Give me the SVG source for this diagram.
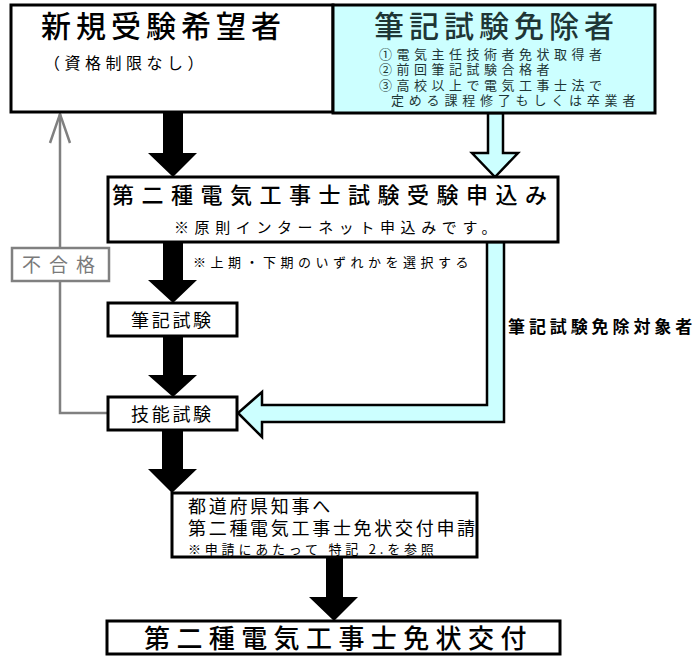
<svg xmlns="http://www.w3.org/2000/svg" width="700" height="660" viewBox="0 0 700 660">
<style>
text{font-family:"Noto Sans CJK JP","Noto Sans CJK SC",sans-serif;fill:#000}
.box{fill:#fff;stroke:#000;stroke-width:3}
.cy{fill:#ccffff;stroke:#000;stroke-width:3}
.blk{fill:#000}
.cya{fill:#ccffff;stroke:#000;stroke-width:2.5;stroke-linejoin:miter}
.gray{fill:none;stroke:#808080;stroke-width:2.5}
.teal{fill:#1e3636}
.tt{font-weight:500}
</style>
<rect width="700" height="660" fill="#fff"/>
<g id="connectors">
<polygon class="blk" points="163,112 183,112 183,153 197,153 173,177 148,153 163,153"/>
<polygon class="cya" points="488,113 503,113 503,153 518,153 495,177 472,153 488,153"/>
<polygon class="blk" points="163,242 183,242 183,280 197,280 173,303 148,280 163,280"/>
<polygon class="blk" points="163,336 183,336 183,375 197,375 173,397 148,375 163,375"/>
<polygon class="blk" points="162,430 183,430 183,469 197,469 172,493 148,469 162,469"/>
<polygon class="blk" points="326,557 343,557 343,597 358,597 334,621 309,597 326,597"/>
<polygon class="cya" points="487,242 487,405 262,405 262,392 238,413 262,437 262,422 504,422 504,242"/>
<polyline class="gray" points="60,248 60,114"/>
<polyline class="gray" points="50,143 60,114 70,143"/>
<polyline class="gray" points="60,281 60,413 108,413"/>
<text x="508" y="333" font-size="17" font-weight="bold" letter-spacing="3.9">筆記試験免除対象者</text>
<text x="193" y="267" font-size="13" letter-spacing="4.5">※上期・下期のいずれかを選択する</text>
</g>
<g id="n-shinki">
<rect class="box" x="11" y="5" width="322" height="107"/>
<text class="tt" x="41" y="37" font-size="30" letter-spacing="5">新規受験希望者</text>
<text x="44" y="69" font-size="16" letter-spacing="4.5">（資格制限なし）</text>
</g>
<g id="n-menjo">
<rect class="cy" x="333" y="5" width="322" height="108"/>
<text class="teal tt" x="374" y="37" font-size="30" letter-spacing="5">筆記試験免除者</text>
<text class="teal" x="379" y="59" font-size="13" letter-spacing="4.5">①電気主任技術者免状取得者</text>
<text class="teal" x="379" y="74" font-size="13" letter-spacing="4.5">②前回筆記試験合格者</text>
<text class="teal" x="379" y="90" font-size="13" letter-spacing="4.5">③高校以上で電気工事士法で</text>
<text class="teal" x="391" y="105" font-size="13" letter-spacing="4.8">定める課程修了もしくは卒業者</text>
</g>
<g id="n-moushikomi">
<rect class="box" x="108" y="177" width="450" height="65"/>
<text class="tt" x="112" y="203" font-size="22" letter-spacing="7.5">第二種電気工事士試験受験申込み</text>
<text x="174" y="233" font-size="15" letter-spacing="5.6">※原則インターネット申込みです。</text>
</g>
<g id="n-fugoukaku">
<rect x="12" y="248" width="97" height="33" fill="#fff" stroke="#808080" stroke-width="2.5"/>
<text x="22" y="272" font-size="19" letter-spacing="8" style="fill:#7a7a7a">不合格</text>
</g>
<g id="n-hikki">
<rect class="box" x="108" y="303" width="129" height="33"/>
<text x="131" y="327" font-size="18" letter-spacing="2.7">筆記試験</text>
</g>
<g id="n-ginou">
<rect class="box" x="108" y="397" width="129" height="33"/>
<text x="131" y="421" font-size="18" letter-spacing="2.7">技能試験</text>
</g>
<g id="n-shinsei">
<rect class="box" x="172" y="493" width="305" height="64"/>
<text x="188" y="513" font-size="18" letter-spacing="2.7">都道府県知事へ</text>
<text x="188" y="535" font-size="18" letter-spacing="2.7">第二種電気工事士免状交付申請</text>
<text x="188" y="554" font-size="13" letter-spacing="3.8">※申請にあたって 特記 2.を参照</text>
</g>
<g id="n-koufu">
<rect class="box" x="107" y="621" width="453" height="33"/>
<text class="tt" x="144" y="648" font-size="26" letter-spacing="6.4">第二種電気工事士免状交付</text>
</g>
</svg>
